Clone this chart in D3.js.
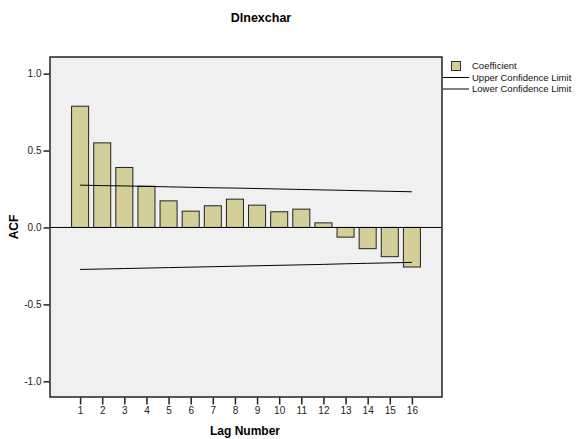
<!DOCTYPE html>
<html>
<head>
<meta charset="utf-8">
<script src="https://cdn.jsdelivr.net/npm/d3@7"></script>
<style>
  body { margin: 0; background: #fff; }
  text { font-family: "Liberation Sans", Arial, sans-serif; }
</style>
</head>
<body>
<script>
// ACF values
var lags = [1, 2, 3, 4, 5, 6, 7, 8, 9, 10, 11, 12, 13, 14, 15, 16];
var coefficient = [0.788, 0.55, 0.39, 0.268, 0.173, 0.106, 0.141, 0.184, 0.145, 0.102, 0.119, 0.03, -0.063, -0.138, -0.19, -0.257];
var upperLimit = [0.275, 0.272, 0.270, 0.267, 0.264, 0.261, 0.258, 0.256, 0.253, 0.250, 0.247, 0.244, 0.241, 0.238, 0.235, 0.232];
var lowerLimit = [-0.273, -0.270, -0.267, -0.264, -0.261, -0.258, -0.255, -0.252, -0.249, -0.246, -0.243, -0.240, -0.236, -0.233, -0.230, -0.227];
var yTicks = [-1.0, -0.5, 0.0, 0.5, 1.0];
var legendLabels = ['Coefficient', 'Upper Confidence Limit', 'Lower Confidence Limit'];

var width = 582, height = 439;
var plot = { left: 50, top: 57, right: 442, bottom: 397 };
var barFill = '#d4cf98';

var svg = d3.select('body')
  .append('svg')
  .attr('width', width)
  .attr('height', height);

var xScale = d3.scaleLinear()
  .domain([1 - 1.36, 16 + 1.36])
  .range([plot.left, plot.right]);

var yScale = d3.scaleLinear()
  .domain([-1.102, 1.108])
  .range([plot.bottom, plot.top]);

var barWidth = (xScale(2) - xScale(1)) * 0.77;

// plot background
svg.append('rect')
  .attr('x', plot.left)
  .attr('y', plot.top)
  .attr('width', plot.right - plot.left)
  .attr('height', plot.bottom - plot.top)
  .attr('fill', '#f0f0f0');

// bars
svg.append('g')
  .selectAll('rect')
  .data(lags)
  .enter()
  .append('rect')
  .attr('x', function(d) { return xScale(d) - barWidth / 2; })
  .attr('y', function(d, i) { return yScale(Math.max(0, coefficient[i])); })
  .attr('width', barWidth)
  .attr('height', function(d, i) { return Math.abs(yScale(coefficient[i]) - yScale(0)); })
  .attr('fill', barFill)
  .attr('stroke', '#222')
  .attr('stroke-width', 1);

// zero line
svg.append('line')
  .attr('x1', plot.left)
  .attr('x2', plot.right)
  .attr('y1', yScale(0))
  .attr('y2', yScale(0))
  .attr('stroke', '#000')
  .attr('stroke-width', 1);

// confidence limits
var line = d3.line()
  .x(function(d) { return xScale(d[0]); })
  .y(function(d) { return yScale(d[1]); });

[upperLimit, lowerLimit].forEach(function(vals) {
  svg.append('path')
    .datum(lags.map(function(l, i) { return [l, vals[i]]; }))
    .attr('d', line)
    .attr('fill', 'none')
    .attr('stroke', '#000')
    .attr('stroke-width', 1);
});

// plot border
svg.append('rect')
  .attr('x', plot.left)
  .attr('y', plot.top)
  .attr('width', plot.right - plot.left)
  .attr('height', plot.bottom - plot.top)
  .attr('fill', 'none')
  .attr('stroke', '#222')
  .attr('stroke-width', 1.5);

// axes
var yAxis = d3.axisLeft(yScale)
  .tickValues(yTicks)
  .tickSize(6)
  .tickPadding(2)
  .tickFormat(function(d) { return d.toFixed(1); });
var yAxisNodes = svg.append('g')
  .attr('transform', 'translate(' + (plot.left - 0.5) + ',0)')
  .call(yAxis);
styleAxisNodes(yAxisNodes);

var xAxis = d3.axisBottom(xScale)
  .tickValues(lags)
  .tickSize(7)
  .tickPadding(2)
  .tickFormat(d3.format('d'));
var xAxisNodes = svg.append('g')
  .attr('transform', 'translate(0,' + (plot.bottom + 0.5) + ')')
  .call(xAxis);
styleAxisNodes(xAxisNodes);

// titles
svg.append('text')
  .attr('x', 261)
  .attr('y', 22)
  .attr('text-anchor', 'middle')
  .attr('font-size', 12.5)
  .attr('font-weight', 'bold')
  .text('Dlnexchar');

svg.append('text')
  .attr('x', 245)
  .attr('y', 435)
  .attr('text-anchor', 'middle')
  .attr('font-size', 12)
  .attr('font-weight', 'bold')
  .text('Lag Number');

svg.append('text')
  .attr('transform', 'translate(18,' + 227 + ') rotate(-90)')
  .attr('text-anchor', 'middle')
  .attr('font-size', 12)
  .attr('font-weight', 'bold')
  .text('ACF');

// legend
var rowY = [66, 77.5, 89];
var legend = svg.append('g');
legend.append('rect')
  .attr('x', 451.5)
  .attr('y', rowY[0] - 4.5)
  .attr('width', 9)
  .attr('height', 9)
  .attr('fill', barFill)
  .attr('stroke', '#333')
  .attr('stroke-width', 1);
[rowY[1], rowY[2]].forEach(function(y) {
  legend.append('line')
    .attr('x1', 443)
    .attr('x2', 469)
    .attr('y1', y)
    .attr('y2', y)
    .attr('stroke', '#000')
    .attr('stroke-width', 1);
});
legend.selectAll('text')
  .data(legendLabels)
  .enter()
  .append('text')
  .attr('x', 472)
  .attr('y', function(d, i) { return rowY[i]; })
  .attr('dy', '0.35em')
  .attr('font-size', 9.5)
  .attr('fill', '#111')
  .text(function(d) { return d; });

function styleAxisNodes(axisNodes) {
  axisNodes.select('.domain').remove();
  axisNodes.selectAll('.tick line')
    .attr('stroke', '#222')
    .attr('stroke-width', 1.5);
  axisNodes.selectAll('.tick text')
    .attr('font-family', '"Liberation Sans", Arial, sans-serif')
    .attr('font-size', 10)
    .attr('fill', '#222');
}
</script>
</body>
</html>
